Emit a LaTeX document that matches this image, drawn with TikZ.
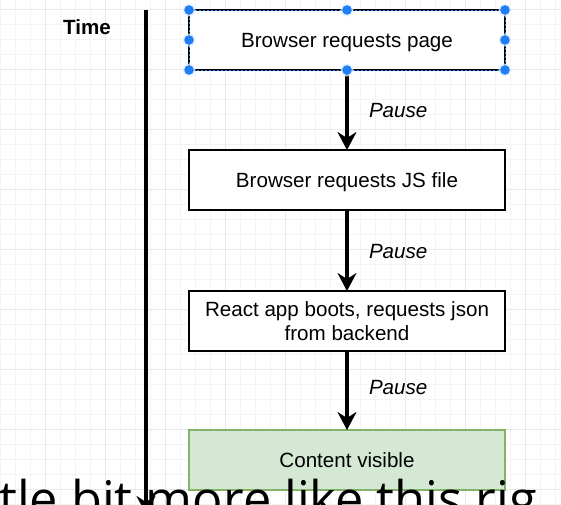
\documentclass[tikz,border=0pt]{standalone}
\usepackage{fontspec}
\setmainfont{Liberation Sans}
\newfontfamily\subfont{Open Sans}
\usetikzlibrary{arrows.meta}
\definecolor{gridminor}{HTML}{F4F4F4}
\definecolor{gridmajor}{HTML}{E8E8E8}
\definecolor{selblue}{HTML}{1F7EF5}
\definecolor{greenfill}{HTML}{D5E8D4}
\definecolor{greendraw}{HTML}{82B366}
\tikzset{
  box/.style={draw=black, line width=2.8pt, fill=white, minimum width=316pt,
    minimum height=60pt, inner sep=0pt, outer sep=0pt, align=center,
    font=\fontsize{20.6}{24}\selectfont},
  oneline/.style={text height=14.8pt, text depth=0pt},
  flow/.style={line width=4pt, -{Stealth[length=18pt,width=19pt,inset=6pt]}},
  pauselbl/.style={anchor=west, font=\itshape\fontsize{20.6}{24}\selectfont, inner sep=0pt},
  handle/.style={fill=selblue},
  halo/.style={fill=selblue!12, opacity=0.8}
}
\begin{document}
\begin{tikzpicture}[x=1pt,y=-1pt]
\useasboundingbox (0,0) rectangle (561,504);
\clip (0,0) rectangle (561,504);
\fill[white] (0,0) rectangle (561,504);
% grid
\foreach \x in {0,15,...,555} \draw[gridminor, line width=0.8pt] (\x,0) -- (\x,504);
\foreach \y in {-6,9,...,504} \draw[gridminor, line width=0.8pt] (0,\y) -- (561,\y);
\foreach \x in {45,105,...,525} \draw[gridmajor, line width=0.8pt] (\x,0) -- (\x,504);
\foreach \y in {9,69,...,489} \draw[gridmajor, line width=0.8pt] (0,\y) -- (561,\y);

% time axis
\node[font=\bfseries\fontsize{20.6}{24}\selectfont, inner sep=0pt] (time) at (87,27) {Time};
\coordinate (t0) at (146,10);
\coordinate (t1) at (146,514);

% boxes
\node[box, oneline] (b1) at (347,40) {Browser requests page};
\node[box, oneline] (b2) at (347,180) {Browser requests JS file};
\node[box] (b3) at (347,321) {React app boots, requests json\\from backend};
\node[box, oneline, draw=greendraw, fill=greenfill] (b4) at (347,460) {Content visible};

% arrows
\draw[flow] (b1.south) -- node[pauselbl, xshift=20pt, yshift=-1pt] (p1) {Pause} (b2.north);
\draw[flow] (b2.south) -- node[pauselbl, xshift=20pt, yshift=-1pt] (p2) {Pause} (b3.north);
\draw[flow] (b3.south) -- node[pauselbl, xshift=20pt, yshift=3pt] (p3) {Pause} (b4.north);

% selection of b1
\draw[selblue, line width=1pt, dash pattern=on 2pt off 2pt] (b1.north west) rectangle (b1.south east);
\foreach \a in {north west, north, north east, west, east, south west, south, south east} {
  \fill[halo] (b1.\a) circle (6.5pt);
  \fill[handle] (b1.\a) circle (4.8pt);
}

% subtitle overlay
\node[anchor=base west, inner sep=0pt, font=\subfont\fontsize{50.5}{50}\selectfont] (sub) at (-1,517) {tle bit more like this rig};

\draw[flow] (t0) -- (t1);
\end{tikzpicture}
\end{document}
